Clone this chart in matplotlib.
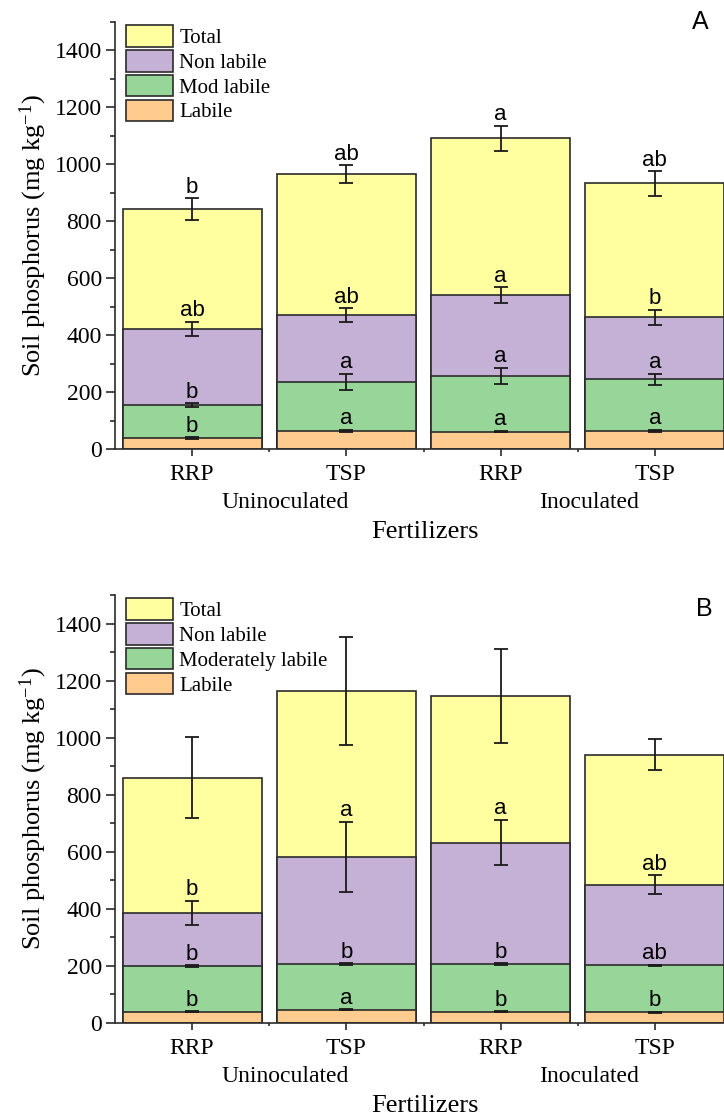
import matplotlib
matplotlib.use("Agg")
import matplotlib.pyplot as plt
from matplotlib.patches import Patch
from matplotlib.ticker import MultipleLocator, FixedLocator

# ---- data ----
fertilizers = ["RRP", "TSP", "RRP", "TSP"]
inoculation = ["Uninoculated", "Inoculated"]

# panel A
A_total = [842, 965, 1091, 933]
A_total_err = [38, 31, 44, 43]
A_nonlab = [421, 470, 540, 463]
A_nonlab_err = [25, 24, 28, 26]
A_mod = [153, 236, 257, 245]
A_mod_err = [7, 28, 28, 19]
A_lab = [38, 64, 61, 64]
A_lab_err = [3, 3, 3, 3]
A_letters = {
    "total": ["b", "ab", "a", "ab"],
    "nonlab": ["ab", "ab", "a", "b"],
    "mod": ["b", "a", "a", "a"],
    "lab": ["b", "a", "a", "a"],
}

# panel B
B_total = [860, 1163, 1145, 940]
B_total_err = [142, 190, 165, 54]
B_nonlab = [386, 583, 632, 484]
B_nonlab_err = [42, 123, 80, 33]
B_mod = [200, 207, 207, 203]
B_mod_err = [3, 3, 2, 2]
B_lab = [39, 46, 39, 38]
B_lab_err = [2, 2, 2, 2]
B_letters = {
    "total": ["", "", "", ""],
    "nonlab": ["b", "a", "a", "ab"],
    "mod": ["b", "b", "b", "ab"],
    "lab": ["b", "a", "b", "b"],
}

COLORS = {
    "total": "#ffff9f",
    "nonlab": "#c5b1d6",
    "mod": "#98d598",
    "lab": "#ffcb8e",
}
EDGE = "#2b2b2b"

plt.rcParams["font.family"] = ["Liberation Serif", "DejaVu Serif"]
plt.rcParams["mathtext.fontset"] = "custom"
plt.rcParams["mathtext.rm"] = "Liberation Serif"

W, H = 724, 1118
fig = plt.figure(figsize=(W / 100, H / 100), dpi=100)


def panel(ax, series, letters, legend_names, tag, tag_xy):
    x = list(range(len(fertilizers)))
    for key, vals, errs in series:
        ax.bar(x, vals, width=0.9, color=COLORS[key], edgecolor=EDGE,
               linewidth=1.2, zorder=2)
        ax.errorbar(x, vals, yerr=errs, fmt="none", ecolor="#1a1a1a",
                    elinewidth=1.3, capsize=5, capthick=1.3, zorder=3)
        for xi, v, e, lab in zip(x, vals, errs, letters[key]):
            if lab:
                ax.annotate(lab, (xi, v + e), xytext=(0, 4),
                            textcoords="offset points", ha="center",
                            va="baseline", fontsize=16,
                            family=["Liberation Sans", "DejaVu Sans"],
                            zorder=4)

    ax.set_xlim(-0.5, 3.5)
    ax.set_ylim(0, 1500)
    ax.yaxis.set_major_locator(FixedLocator([0, 200, 400, 600, 800, 1000, 1200, 1400]))
    ax.yaxis.set_minor_locator(MultipleLocator(100))
    ax.set_xticks(x)
    ax.set_xticklabels(fertilizers, fontsize=17)
    ax.xaxis.set_minor_locator(FixedLocator([0.5, 1.5, 2.5]))
    ax.tick_params(axis="y", which="major", direction="out", length=6.5,
                   width=1.2, labelsize=17, pad=3, color=EDGE)
    ax.tick_params(axis="y", which="minor", direction="out", length=3.5,
                   width=1.2, color=EDGE)
    ax.tick_params(axis="x", which="major", direction="out", length=5,
                   width=1.2, pad=6, color=EDGE)
    ax.tick_params(axis="x", which="minor", direction="out", length=2.5,
                   width=1.2, color=EDGE)
    for s in ("top", "right"):
        ax.spines[s].set_visible(False)
    for s in ("left", "bottom"):
        ax.spines[s].set_linewidth(1.2)
        ax.spines[s].set_color(EDGE)

    ax.set_ylabel("Soil phosphorus (mg kg$\\mathregular{^{-1}}$)", fontsize=19,
                  labelpad=4)
    ax.text(0.6, -0.125, inoculation[0], transform=ax.get_xaxis_transform(),
            ha="center", va="center", fontsize=17)
    ax.text(2.57, -0.125, inoculation[1], transform=ax.get_xaxis_transform(),
            ha="center", va="center", fontsize=17)
    ax.text(1.51, -0.194, "Fertilizers", transform=ax.get_xaxis_transform(),
            ha="center", va="center", fontsize=19)

    handles = [Patch(facecolor=COLORS[k], edgecolor=EDGE, linewidth=1.2)
               for k in ("total", "nonlab", "mod", "lab")]
    ax.legend(handles, legend_names, loc="upper left",
              bbox_to_anchor=(0.018, 0.992), frameon=False, fontsize=15,
              handlelength=2.25, handleheight=1.2, handletextpad=0.3,
              labelspacing=0.1, borderpad=0, borderaxespad=0)

    fig.text(tag_xy[0], tag_xy[1], tag, ha="center", va="center", fontsize=18,
             family=["Liberation Sans", "DejaVu Sans"])


axA = fig.add_axes([115 / W, 1 - 449 / H, 617 / W, 427 / H])
panel(axA,
      [("total", A_total, A_total_err), ("nonlab", A_nonlab, A_nonlab_err),
       ("mod", A_mod, A_mod_err), ("lab", A_lab, A_lab_err)],
      A_letters, ["Total", "Non labile", "Mod labile", "Labile"],
      "A", (700 / W, 1 - 22 / H))

axB = fig.add_axes([115 / W, 1 - 1023 / H, 617 / W, 428 / H])
panel(axB,
      [("total", B_total, B_total_err), ("nonlab", B_nonlab, B_nonlab_err),
       ("mod", B_mod, B_mod_err), ("lab", B_lab, B_lab_err)],
      B_letters, ["Total", "Non labile", "Moderately labile", "Labile"],
      "B", (704 / W, 1 - 609 / H))

fig.savefig("out.png", dpi=100)
